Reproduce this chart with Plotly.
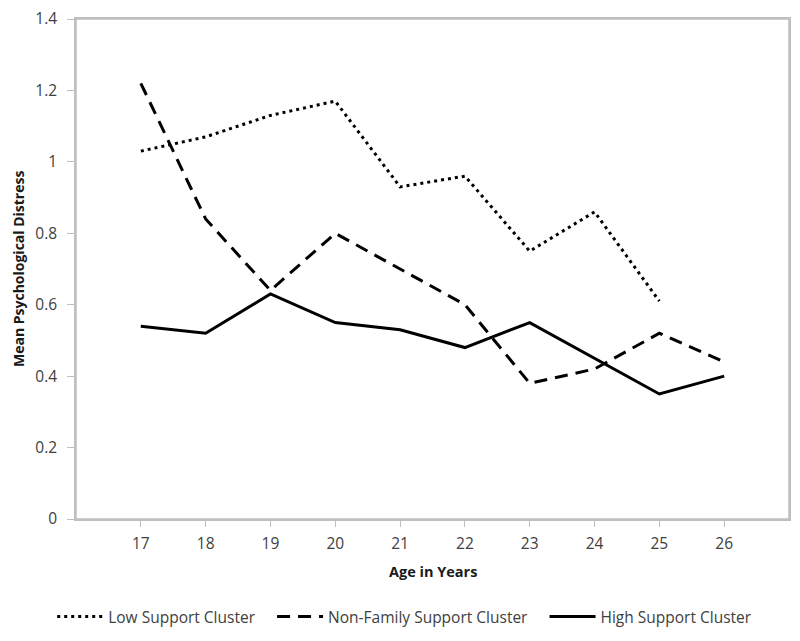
import plotly.graph_objects as go

ages = [17, 18, 19, 20, 21, 22, 23, 24, 25, 26]
low_support = [1.03, 1.07, 1.13, 1.17, 0.93, 0.96, 0.75, 0.86, 0.61, None]
nonfamily_support = [1.22, 0.84, 0.64, 0.80, 0.70, 0.60, 0.38, 0.42, 0.52, 0.44]
high_support = [0.54, 0.52, 0.63, 0.55, 0.53, 0.48, 0.55, 0.45, 0.35, 0.40]
y_ticks = [0, 0.2, 0.4, 0.6, 0.8, 1.0, 1.2, 1.4]
y_tick_text = ["0", "0.2", "0.4", "0.6", "0.8", "1", "1.2", "1.4"]
series_names = ["Low Support Cluster", "Non-Family Support Cluster", "High Support Cluster"]

FONT = "Open Sans, Liberation Sans, sans-serif"
TXT = "#404040"
PAD = "\u00a0\u00a0\u00a0"
fig = go.Figure()
fig.add_trace(go.Scatter(x=ages, y=low_support, mode="lines", name=series_names[0] + PAD,
                         line=dict(color="black", width=3, dash="3px,4px")))
fig.add_trace(go.Scatter(x=ages, y=nonfamily_support, mode="lines", name=series_names[1] + PAD,
                         line=dict(color="black", width=3, dash="13px,8px")))
fig.add_trace(go.Scatter(x=ages, y=high_support, mode="lines", name=series_names[2],
                         line=dict(color="black", width=3)))

# page has an 8px body margin; figure sized to fit the 800x641 window
fig.update_layout(
    template="none",
    width=784, height=625,
    margin=dict(l=68, r=3, t=11, b=114, autoexpand=False),
    paper_bgcolor="white", plot_bgcolor="white",
    font=dict(family=FONT, size=15.5, color=TXT),
    showlegend=True,
    legend=dict(orientation="h", xref="container", yref="container",
                x=0.506, xanchor="center", y=0.0256, yanchor="middle",
                itemwidth=46,
                font=dict(size=15.5, color=TXT), bgcolor="rgba(0,0,0,0)"),
    xaxis=dict(range=[16, 27], tickmode="array", tickvals=ages,
               ticktext=[str(a) for a in ages], automargin=False,
               showgrid=False, zeroline=False,
               showline=True, linecolor="#BFBFBF", linewidth=1.5, mirror=True,
               ticks="outside", ticklen=6, tickcolor="#BFBFBF", tickwidth=1,
               ticklabelstandoff=4, ticklabeloverflow="allow",
               tickfont=dict(size=15.5, color=TXT)),
    yaxis=dict(range=[0, 1.4], tickmode="array", tickvals=y_ticks, ticktext=y_tick_text,
               automargin=False,
               showgrid=False, zeroline=False,
               showline=True, linecolor="#BFBFBF", linewidth=1.5, mirror=True,
               ticks="outside", ticklen=7, tickcolor="#BFBFBF", tickwidth=1,
               ticklabelstandoff=7, ticklabeloverflow="allow",
               tickfont=dict(size=15.5, color=TXT)),
    shapes=[dict(type="rect", xref="paper", yref="paper", x0=0, x1=1, y0=0, y1=1,
                 line=dict(color="#BFBFBF", width=1.5), fillcolor="rgba(0,0,0,0)",
                 layer="below")],
    annotations=[
        dict(text="<b>Age in Years</b>", xref="paper", yref="paper", x=0.5, y=-0.104,
             xanchor="center", yanchor="middle", showarrow=False,
             font=dict(size=14.5, color="#1a1a1a")),
        dict(text="<b>Mean Psychological Distress</b>", xref="paper", yref="paper",
             x=-0.0813, y=0.5, xanchor="center", yanchor="middle", textangle=-90,
             showarrow=False, font=dict(size=14, color="#1a1a1a")),
    ],
)

fig.write_html("out.html")
